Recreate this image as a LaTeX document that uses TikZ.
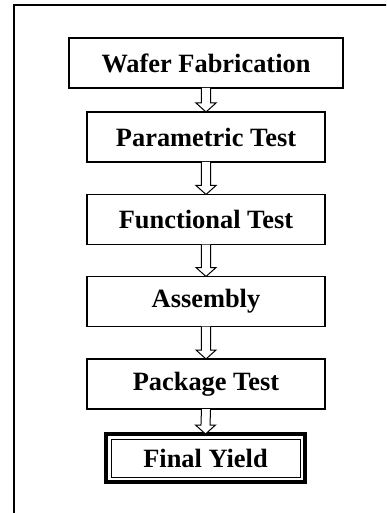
\documentclass[tikz,border=0pt]{standalone}
\usepackage{fontspec}
\setmainfont{Liberation Serif}
\usepackage{tikz}
\usetikzlibrary{arrows.meta, positioning}

\tikzset{
    stage/.style={draw, line width=1.1pt, outer sep=0pt, minimum width=178.5pt, minimum height=37.5pt,
        font=\fontsize{19.8}{22}\selectfont\bfseries},
    flowarrow/.style={draw, line width=0.75pt, fill=white},
}

\begin{document}
\begin{tikzpicture}[x=0.75pt, y=-0.75pt]
    \useasboundingbox (0,0) rectangle (386,513);
    \clip (0,0) rectangle (386,513);
    \draw[line width=1.1pt] (14,5) rectangle (400,530);

    \node[stage, minimum width=205.5pt] (wafer) at (206,63) {Wafer Fabrication};
    \node[stage] (param) at (206,137) {Parametric Test};
    \node[stage] (func) at (206,219.5) {Functional Test};
    \node[stage] (assy) at (206,301.5) {Assembly};
    \node[stage] (pkg) at (206,384) {Package Test};
    \node[stage, line width=3pt, minimum width=149.25pt, minimum height=36pt] (yield) at (205.5,458) {Final Yield};
    \draw[line width=0.75pt] ([shift={(3.75pt,-3.75pt)}]yield.north west) rectangle ([shift={(-3.75pt,3.75pt)}]yield.south east);

    \foreach \a/\b in {wafer/param, param/func, func/assy, assy/pkg, pkg/yield}
        \draw[flowarrow] ([xshift=-3.4pt]\a.south) -- ([xshift=-3.4pt, yshift=6.75pt]\b.north)
            -- ([xshift=-7.5pt, yshift=6.75pt]\b.north) -- (\b.north)
            -- ([xshift=7.5pt, yshift=6.75pt]\b.north) -- ([xshift=3.4pt, yshift=6.75pt]\b.north)
            -- ([xshift=3.4pt]\a.south);
\end{tikzpicture}
\end{document}
